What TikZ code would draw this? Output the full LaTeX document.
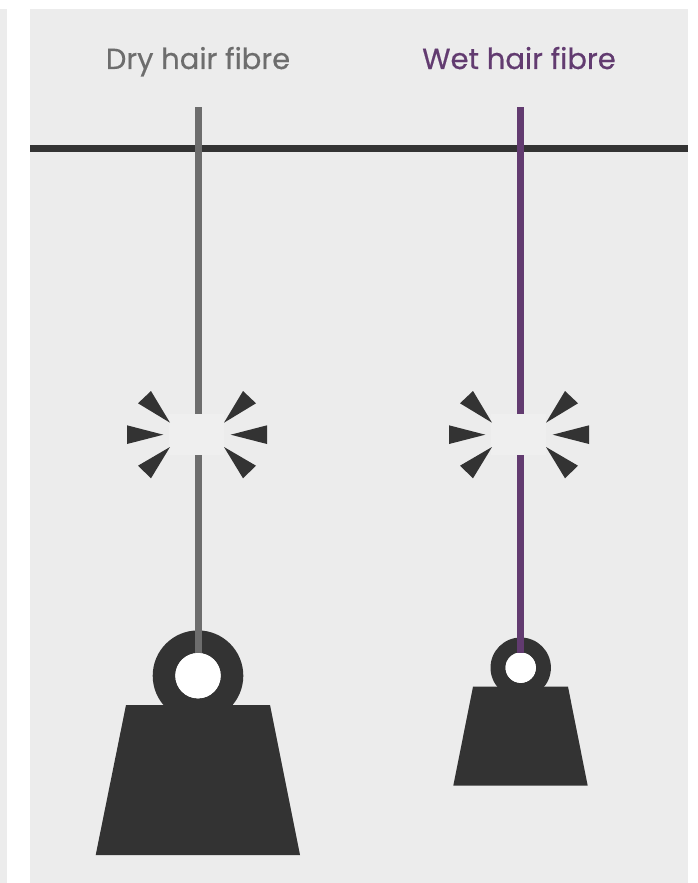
\documentclass[tikz,border=0pt]{standalone}
\usepackage{fontspec}
\setsansfont[FakeBold=0.5]{Poppins}
\usepackage{xcolor}
\definecolor{panelgrey}{HTML}{ECECEC}
\definecolor{gapgrey}{HTML}{EFEFEF}
\definecolor{darkgrey}{HTML}{333333}
\definecolor{dryfibre}{HTML}{6D6D6D}
\definecolor{wetfibre}{HTML}{623B70}
\begin{document}
\begin{tikzpicture}[
			x=1pt, y=-1pt,
			panel/.style={fill=panelgrey, draw=none},
			label/.style={font=\fontsize{29}{34}\selectfont\sffamily, inner sep=0pt, anchor=base},
			fibre/.style={line width=7pt},
			weightpart/.style={fill=darkgrey, draw=none},
			spark/.style={fill=darkgrey, draw=none}
		]
		\useasboundingbox (0,0) rectangle (697,883);

		\fill[panel] (0,9) rectangle (7,883);
		\fill[panel] (30,9) rectangle (688,883);

		\node[label, text=dryfibre] (drylabel) at (198,69) {Dry hair fibre};
		\node[label, text=wetfibre] (wetlabel) at (519,69) {Wet hair fibre};

		\coordinate (barleft) at (30,148.8);
		\coordinate (barright) at (688,148.8);
		\draw[line width=7pt, draw=darkgrey] (barleft) -- (barright);

		% weights
		\fill[weightpart, even odd rule] (198,675.7) circle (45.3) (198,675.7) circle (22.7);
		\fill[white] (198,675.7) circle (22.7);
		\fill[weightpart] (126,705) -- (270,705) -- (300,855) -- (95.7,855) -- cycle;

		\fill[weightpart, even odd rule] (520.7,667.7) circle (30.2) (520.7,667.7) circle (15.2);
		\fill[white] (520.7,667.7) circle (15.2);
		\fill[weightpart] (473,686.7) -- (568,686.7) -- (587.7,785.7) -- (453.3,785.7) -- cycle;

		% fibres
		\coordinate (drytop) at (198,107);
		\coordinate (drybottom) at (198,652.7);
		\coordinate (wettop) at (520.7,107);
		\coordinate (wetbottom) at (520.7,652.7);
		\draw[fibre, draw=dryfibre] (drytop) -- (drybottom);
		\draw[fibre, draw=wetfibre] (wettop) -- (wetbottom);

		% breaks
		\foreach \cx in {197,519}{
			\fill[gapgrey] (\cx-28,414) rectangle (\cx+27,455);
			\foreach \sx in {-1,1}{
				\fill[spark] (\cx+\sx*46,391) -- (\cx+\sx*59,403.3) -- (\cx+\sx*27,422.7) -- cycle;
				\fill[spark] (\cx+\sx*70,425.3) -- (\cx+\sx*70,444) -- (\cx+\sx*33.7,434.7) -- cycle;
				\fill[spark] (\cx+\sx*59,465.7) -- (\cx+\sx*46,478.3) -- (\cx+\sx*27,447) -- cycle;
			}
		}

	\end{tikzpicture}
\end{document}
